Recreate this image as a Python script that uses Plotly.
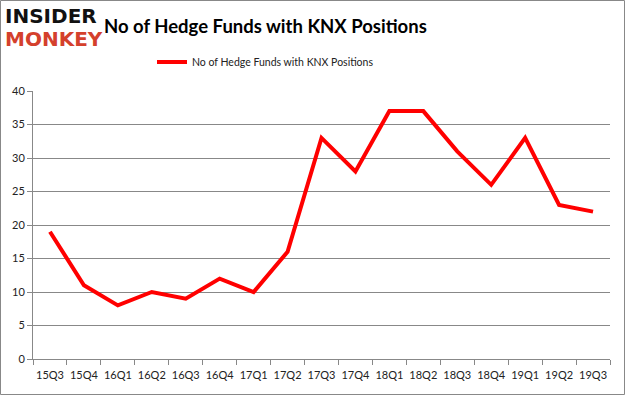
import plotly.graph_objects as go

quarters = ["15Q3", "15Q4", "16Q1", "16Q2", "16Q3", "16Q4", "17Q1", "17Q2", "17Q3",
            "17Q4", "18Q1", "18Q2", "18Q3", "18Q4", "19Q1", "19Q2", "19Q3"]
funds = [19, 11, 8, 10, 9, 12, 10, 16, 33, 28, 37, 37, 31, 26, 33, 23, 22]
series_name = "No of Hedge Funds with KNX Positions"
y_ticks = [0, 5, 10, 15, 20, 25, 30, 35, 40]

W, H = 625, 395
L, R, T, B = 33, 15, 91, 36
pw, ph = W - L - R, H - T - B
FONT = "Lato, Open Sans, sans-serif"

fig = go.Figure()
fig.add_trace(go.Scatter(
    x=quarters, y=funds, mode="lines", name=series_name,
    line=dict(color="#ff0000", width=4),
))

def px_x(x):
    return (x - L) / pw

def px_y(y):
    return (H - B - y) / ph

fig.update_layout(
    width=W, height=H,
    margin=dict(l=L, r=R, t=T, b=B),
    paper_bgcolor="white", plot_bgcolor="white",
    font=dict(family=FONT, color="#222222", size=11),
    showlegend=True,
    legend=dict(orientation="h", x=px_x(152), xanchor="left", y=px_y(62), yanchor="middle",
                font=dict(size=10.5, color="#222222", family=FONT), bgcolor="rgba(0,0,0,0)",
                itemwidth=30),
    xaxis=dict(
        type="category", showgrid=False, showline=True, linecolor="#888888", linewidth=1,
        ticks="outside", ticklen=5, tickcolor="#888888", tickson="boundaries",
        tickangle=0, tickfont=dict(size=11, color="#222222", family=FONT),
        ticklabelstandoff=6,
        range=[-0.5, len(quarters) - 0.5], zeroline=False,
    ),
    yaxis=dict(
        range=[0, 40], tickvals=y_ticks, showgrid=True, gridcolor="#888888", gridwidth=1,
        showline=True, linecolor="#888888", linewidth=1, ticks="outside", ticklen=5,
        tickcolor="#888888", tickfont=dict(size=11, color="#222222", family=FONT),
        zeroline=False,
    ),
    annotations=[
        dict(text="<b>No of Hedge Funds with KNX Positions</b>", x=px_x(102), y=px_y(26),
             xref="paper", yref="paper", xanchor="left", yanchor="middle", showarrow=False,
             font=dict(size=18.5, color="#000000", family=FONT)),
        dict(text="<b>INSIDER</b>", x=px_x(3), y=px_y(16), xref="paper", yref="paper",
             xanchor="left", yanchor="middle", showarrow=False,
             font=dict(size=20, color="#111111", family="DejaVu Sans, sans-serif")),
        dict(text="<b>MONKEY</b>", x=px_x(3), y=px_y(39), xref="paper", yref="paper",
             xanchor="left", yanchor="middle", showarrow=False,
             font=dict(size=20, color="#d4402c", family="DejaVu Sans, sans-serif")),
    ],
    shapes=[
        dict(type="rect", xref="paper", yref="paper",
             x0=px_x(0.5), x1=px_x(W - 0.5), y0=px_y(H - 0.5), y1=px_y(0.5),
             line=dict(color="#888888", width=1), fillcolor="rgba(0,0,0,0)", layer="below"),
    ],
)

fig.write_html(
    "out.html",
    config={"displayModeBar": False},
    post_script="document.body.style.margin='0';document.body.style.padding='0';"
                "document.documentElement.style.overflow='hidden';",
)
